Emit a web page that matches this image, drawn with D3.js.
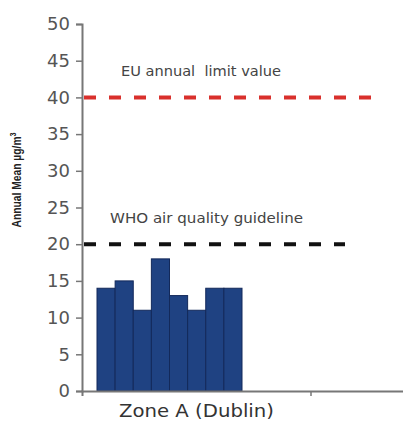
<!DOCTYPE html>
<html>
<head>
<meta charset="utf-8">
<script src="https://cdn.jsdelivr.net/npm/d3@7"></script>
<style>
  body { margin: 0; background: #fff; }
  svg { display: block; font-family: "DejaVu Sans", Arial, sans-serif; }
</style>
</head>
<body>
<div id="chart"></div>
<script>
// data
const zones = ["Zone A (Dublin)", ""];
const stations = ["s1", "s2", "s3", "s4", "s5", "s6", "s7", "s8"];
const stationValues = [14, 15, 11, 18, 13, 11, 14, 14];
const yTicks = [0, 5, 10, 15, 20, 25, 30, 35, 40, 45, 50];
const refLines = [
  { label: "EU annual  limit value", value: 40 },
  { label: "WHO air quality guideline", value: 20 }
];

const width = 403;
const height = 430;
const margin = { top: 24, right: 0, bottom: 39, left: 82 };

const svg = d3.select("#chart")
  .append("svg")
  .attr("width", width)
  .attr("height", height);

const y = d3.scaleLinear()
  .domain([0, 50])
  .range([height - margin.bottom, margin.top]);

// two category slots, the second one runs off the right edge
const x = d3.scaleBand()
  .domain(zones)
  .range([margin.left, margin.left + 458]);

const x0 = x(zones[0]);
const xs = d3.scaleBand()
  .domain(stations)
  .range([x0 + 15, x0 + 160])
  .padding(0);

// bars
svg.selectAll(".bar")
  .data(stationValues)
  .enter()
  .append("rect")
  .attr("class", "bar")
  .attr("x", (d, i) => xs(stations[i]))
  .attr("y", d => y(d))
  .attr("width", xs.bandwidth())
  .attr("height", d => y(0) - y(d))
  .style("fill", "#1f4282")
  .style("stroke", "#13295a")
  .style("stroke-width", 1);

// reference lines
const lineColors = ["#d9302c", "#111"];
const lineEnds = [372, 345];
refLines.forEach((r, i) => {
  svg.append("line")
    .attr("x1", margin.left + 2)
    .attr("x2", lineEnds[i])
    .attr("y1", y(r.value))
    .attr("y2", y(r.value))
    .style("stroke", lineColors[i])
    .style("stroke-width", 4)
    .style("stroke-dasharray", "12,13");
});

svg.append("text")
  .attr("x", 121)
  .attr("y", y(refLines[0].value) - 21)
  .attr("xml:space", "preserve")
  .attr("textLength", 160)
  .attr("lengthAdjust", "spacingAndGlyphs")
  .style("font-size", "14px")
  .style("fill", "#444")
  .text(refLines[0].label);

svg.append("text")
  .attr("x", 110)
  .attr("y", y(refLines[1].value) - 21)
  .attr("textLength", 193)
  .attr("lengthAdjust", "spacingAndGlyphs")
  .style("font-size", "14px")
  .style("fill", "#444")
  .text(refLines[1].label);

// y axis
const yAxis = svg.append("g")
  .attr("transform", `translate(${margin.left},0)`)
  .call(d3.axisLeft(y).tickValues(yTicks).tickSize(6).tickPadding(6));
yAxis.select(".domain").style("stroke", "#777").style("stroke-width", 2);
yAxis.selectAll(".tick line").style("stroke", "#777").style("stroke-width", 1.5);
yAxis.selectAll(".tick text")
  .style("font-size", "18px")
  .style("fill", "#555")
  .style("font-family", "'DejaVu Sans', Arial, sans-serif");

// x axis
const xAxis = svg.append("g")
  .attr("transform", `translate(0,${y(0)})`)
  .call(d3.axisBottom(x).tickValues([zones[1]]).tickSize(5).tickFormat(""));
xAxis.select(".domain").style("stroke", "#777").style("stroke-width", 2);
xAxis.selectAll(".tick line")
  .attr("transform", `translate(${-x.bandwidth() / 2},0)`)
  .style("stroke", "#777").style("stroke-width", 1.5);

svg.append("text")
  .attr("x", x0 + x.bandwidth() / 2)
  .attr("y", y(0) + 26)
  .attr("text-anchor", "middle")
  .attr("textLength", 155)
  .attr("lengthAdjust", "spacingAndGlyphs")
  .style("font-size", "18px")
  .style("fill", "#333")
  .text(zones[0]);

// y title
svg.append("text")
  .attr("transform", `translate(21,180) rotate(-90)`)
  .attr("text-anchor", "middle")
  .attr("textLength", 95)
  .attr("lengthAdjust", "spacingAndGlyphs")
  .style("font-size", "13px")
  .style("font-weight", "bold")
  .style("fill", "#222")
  .style("font-family", "Arial, 'Liberation Sans', sans-serif")
  .html("Annual Mean µg/m<tspan dy='-5' font-size='9px'>3</tspan>");
</script>
</body>
</html>
